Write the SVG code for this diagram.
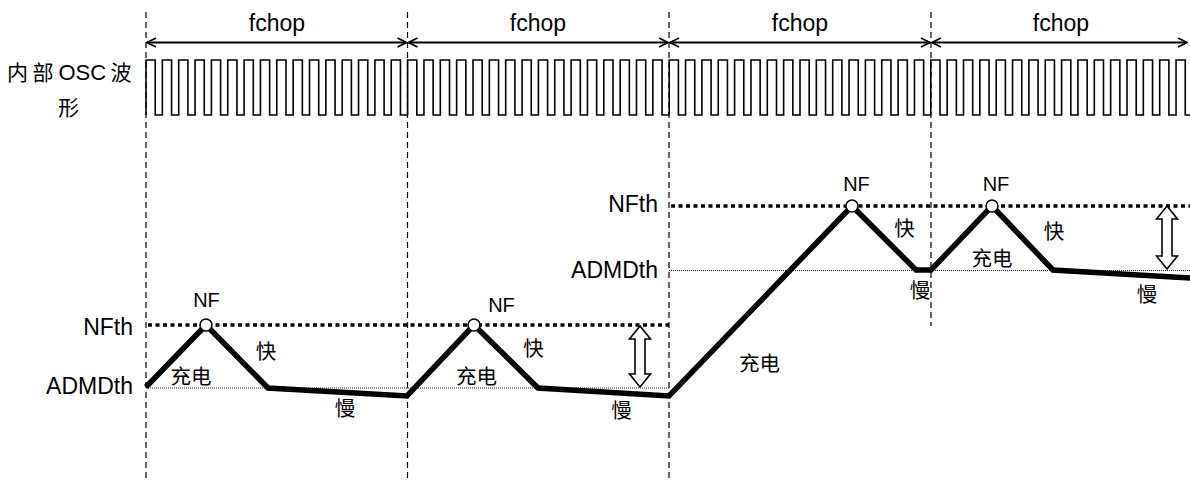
<svg xmlns="http://www.w3.org/2000/svg" width="1190" height="482" viewBox="0 0 1190 482">
<style>
text{font-family:"Liberation Sans","Noto Sans CJK SC",sans-serif;fill:#000}
.lab{font-size:23px}
.nf{font-size:20px;text-anchor:middle}
.cn{font-family:"Noto Sans CJK SC",sans-serif;font-size:20.5px;text-anchor:middle}
.vdash{stroke:#000;stroke-width:1.2;stroke-dasharray:6 4;fill:none}
.nfth{stroke:#000;stroke-width:3.5;stroke-dasharray:4 3.5;fill:none}
.adm{stroke:#222;stroke-width:1;stroke-dasharray:1 1;fill:none}
.dim{stroke:#000;stroke-width:2;fill:none;marker-start:url(#ah);marker-end:url(#ah)}
.osc{stroke:#000;stroke-width:1.6;fill:none}
.curve{stroke:#000;stroke-width:5.5;fill:none;stroke-linejoin:miter}
.pt{fill:#fff;stroke:#000;stroke-width:1.6}
.darr{fill:#fff;stroke:#000;stroke-width:1.6;stroke-linejoin:miter}
</style>
<defs>
<marker id="ah" viewBox="0 0 12 12" refX="11" refY="6" markerWidth="12" markerHeight="12" markerUnits="userSpaceOnUse" orient="auto-start-reverse">
<path d="M2,1.5 L11,6 L2,10.5" fill="none" stroke="#000" stroke-width="1.6"/>
</marker>
<path id="chop" d="M0,115v-55h9.2v55h7.15v-55h9.2v55h7.15v-55h9.2v55h7.15v-55h9.2v55h7.15v-55h9.2v55h7.15v-55h9.2v55h7.15v-55h9.2v55h7.15v-55h9.2v55h7.15v-55h9.2v55h7.15v-55h9.2v55h7.15v-55h9.2v55h7.15v-55h9.2v55h7.15v-55h9.2v55h7.15v-55h9.2v55h7.15v-55h9.2v55h7.15v-55h9.2v55h7.15"/>
</defs>
<rect width="1190" height="482" fill="#fff"/>

<g id="grid">
<line class="vdash" x1="146" y1="12" x2="146" y2="480"/>
<line class="vdash" x1="407.5" y1="12" x2="407.5" y2="482"/>
<line class="vdash" x1="669" y1="12" x2="669" y2="482"/>
<line class="vdash" x1="931" y1="12" x2="931" y2="326"/>
</g>

<g id="fchop-dims">
<line class="dim" x1="147" y1="42.5" x2="406.5" y2="42.5"/>
<line class="dim" x1="408.5" y1="42.5" x2="668" y2="42.5"/>
<line class="dim" x1="670" y1="42.5" x2="930" y2="42.5"/>
<line class="dim" x1="932" y1="42.5" x2="1187" y2="42.5"/>
<text class="lab" x="277" y="31" text-anchor="middle">fchop</text>
<text class="lab" x="538" y="31" text-anchor="middle">fchop</text>
<text class="lab" x="800" y="31" text-anchor="middle">fchop</text>
<text class="lab" x="1061" y="31" text-anchor="middle">fchop</text>
</g>

<g id="osc">
<text y="80" font-size="21"><tspan x="7" font-family="Noto Sans CJK SC, sans-serif">内</tspan><tspan x="32.5" font-family="Noto Sans CJK SC, sans-serif">部</tspan><tspan x="58.5" font-size="22">OSC</tspan><tspan x="110.5" font-family="Noto Sans CJK SC, sans-serif">波</tspan></text>
<text x="68.5" y="115" font-size="21" text-anchor="middle" font-family="Noto Sans CJK SC, sans-serif">形</text>
<use href="#chop" class="osc" transform="translate(146,0)"/>
<use href="#chop" class="osc" transform="translate(407.6,0)"/>
<use href="#chop" class="osc" transform="translate(669.2,0)"/>
<use href="#chop" class="osc" transform="translate(930.8,0)"/>
</g>

<g id="thresholds">
<line class="nfth" x1="148" y1="325" x2="669" y2="325"/>
<line class="adm" x1="146" y1="388" x2="669" y2="388"/>
<line class="nfth" x1="671" y1="206" x2="1190" y2="206"/>
<line class="adm" x1="669" y1="270.5" x2="1190" y2="270.5"/>
<text class="lab" x="133" y="335" text-anchor="end">NFth</text>
<text class="lab" x="133" y="394" text-anchor="end">ADMDth</text>
<text class="lab" x="658" y="212" text-anchor="end">NFth</text>
<text class="lab" x="658" y="278" text-anchor="end">ADMDth</text>
</g>

<g id="connectors">
<path class="curve" d="M146,387 L206,325 L268,388 L407,396 L474,325 L538,388 L669,396 L852,206 L916,270 L931,270 L992,206 L1053,270 L1192,278"/>
</g>

<g id="peaks">
<circle class="pt" cx="206" cy="325" r="6"/>
<circle class="pt" cx="474" cy="325" r="6"/>
<circle class="pt" cx="852" cy="206" r="6"/>
<circle class="pt" cx="992" cy="206" r="6"/>
<text class="nf" x="206.5" y="307">NF</text>
<text class="nf" x="501.5" y="311.5">NF</text>
<text class="nf" x="856.5" y="190.5">NF</text>
<text class="nf" x="996" y="190.5">NF</text>
</g>

<g id="labels">
<text class="cn" x="191" y="384">充电</text>
<text class="cn" x="266" y="358.5">快</text>
<text class="cn" x="345" y="415.5">慢</text>
<text class="cn" x="476.5" y="383.5">充电</text>
<text class="cn" x="533.5" y="355.5">快</text>
<text class="cn" x="621.5" y="417.5">慢</text>
<text class="cn" x="759.5" y="370.5">充电</text>
<text class="cn" x="904.5" y="235.5">快</text>
<text class="cn" x="920" y="298">慢</text>
<text class="cn" x="992" y="265.5">充电</text>
<text class="cn" x="1054" y="238.5">快</text>
<text class="cn" x="1147" y="301.5">慢</text>
</g>

<g id="margin-arrows">
<path class="darr" d="M640,326 L650.5,339 L645,339 L645,374 L650.5,374 L640,387 L629.5,374 L635,374 L635,339 L629.5,339 Z"/>
<path class="darr" d="M1167,206 L1177.5,219 L1172,219 L1172,256 L1177.5,256 L1167,269 L1156.5,256 L1162,256 L1162,219 L1156.5,219 Z"/>
</g>
</svg>
